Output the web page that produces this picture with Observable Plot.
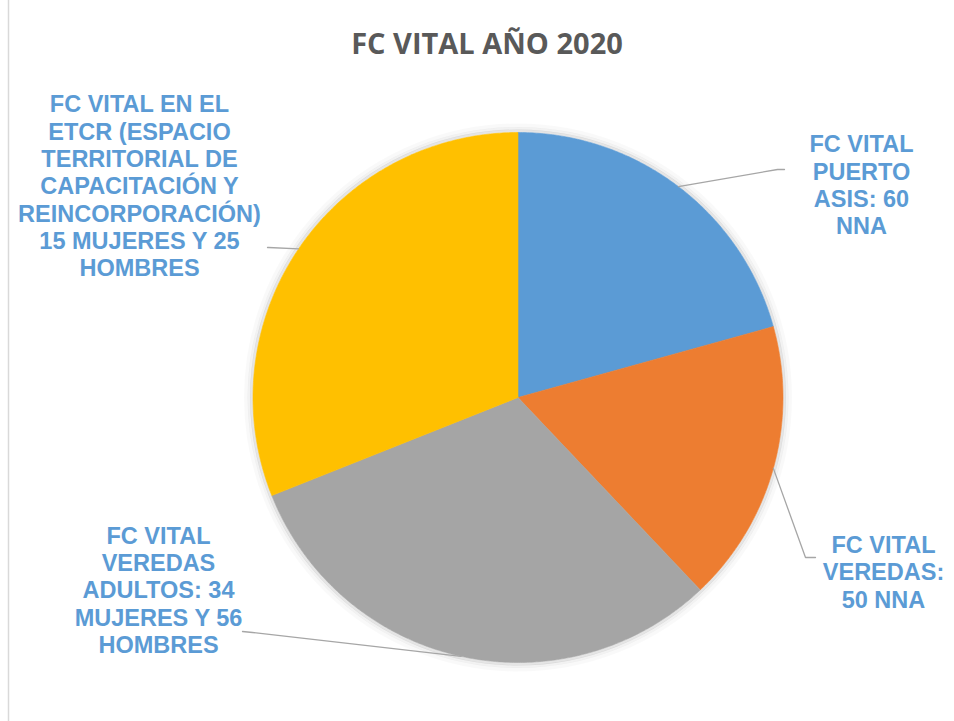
<!DOCTYPE html>
<html>
<head>
<meta charset="utf-8">
<script src="https://cdn.jsdelivr.net/npm/d3@7"></script>
<script src="https://cdn.jsdelivr.net/npm/@observablehq/plot@0.6"></script>
<style>
  html, body { margin: 0; padding: 0; background: #ffffff; }
  #chart svg { display: block; }
</style>
</head>
<body>
<div id="chart"></div>
<script>
// ---------- data ----------
const title = "FC VITAL AÑO 2020";
const categories = ["Puerto Asis", "Veredas", "Veredas adultos", "ETCR"];
const values = [60, 50, 90, 90];
const labelTexts = [
  "FC VITAL\nPUERTO\nASIS: 60\nNNA",
  "FC VITAL\nVEREDAS:\n50 NNA",
  "FC VITAL\nVEREDAS\nADULTOS: 34\nMUJERES Y 56\nHOMBRES",
  "FC VITAL EN EL\nETCR (ESPACIO\nTERRITORIAL DE\nCAPACITACIÓN Y\nREINCORPORACIÓN)\n15 MUJERES Y 25\nHOMBRES"
];
const sliceColors = ["#5B9BD5", "#ED7D31", "#A5A5A5", "#FFC000"];

// ---------- layout (pixels) ----------
const W = 954, H = 721;
const cx = 517.5, cy = 397, R = 265;
const labelLayout = [
  { x: 861, y: 184, elbow: [777, 169], end: [784, 169] },
  { x: 883, y: 571, elbow: [805, 557], end: [815, 557] },
  { x: 158, y: 589, elbow: [252, 632], end: [242, 631] },
  { x: 139, y: 185, elbow: [268, 247], end: [267, 247] }
];
const shadowRings = [
  { r: R + 1.5, w: 3, o: 0.10 },
  { r: R + 4, w: 3, o: 0.05 },
  { r: R + 7, w: 4, o: 0.025 }
];

// ---------- geometry from data ----------
const arcs = d3.pie().sort(null).value(d => d)(values);
const piePoints = [];
arcs.forEach((a, i) => {
  piePoints.push({ cat: categories[i], x: cx, y: cy });
  const n = Math.max(2, Math.ceil((a.endAngle - a.startAngle) / (Math.PI / 360)));
  for (let k = 0; k <= n; k++) {
    const t = a.startAngle + (a.endAngle - a.startAngle) * k / n;
    piePoints.push({ cat: categories[i], x: cx + R * Math.sin(t), y: cy - R * Math.cos(t) });
  }
  piePoints.push({ cat: categories[i], x: cx, y: cy });
});

const leaderPoints = [];
const labelRows = [];
arcs.forEach((a, i) => {
  const mid = (a.startAngle + a.endAngle) / 2;
  const L = labelLayout[i];
  leaderPoints.push({ cat: categories[i], x: cx + R * Math.sin(mid), y: cy - R * Math.cos(mid) });
  leaderPoints.push({ cat: categories[i], x: L.elbow[0], y: L.elbow[1] });
  leaderPoints.push({ cat: categories[i], x: L.end[0], y: L.end[1] });
  labelRows.push({ cat: categories[i], x: L.x, y: L.y, text: labelTexts[i] });
});

const sliceMarks = categories.map((c, i) =>
  Plot.line(piePoints.filter(p => p.cat === c), {
    x: "x", y: "y", fill: sliceColors[i], stroke: sliceColors[i],
    strokeWidth: 0.6, curve: "linear-closed"
  })
);

const chart = Plot.plot({
  width: W,
  height: H,
  margin: 0,
  x: { domain: [0, W], range: [0, W], axis: null },
  y: { domain: [0, H], range: [0, H], axis: null },
  style: { background: "#ffffff" },
  marks: [
    Plot.ruleX([8], { stroke: "#d9d9d9", strokeWidth: 1.5 }),
    ...shadowRings.map(s => Plot.dot([[cx, cy]], {
      x: d => d[0], y: d => d[1], r: s.r, fill: "none",
      stroke: "#000000", strokeOpacity: s.o, strokeWidth: s.w
    })),
    ...sliceMarks,
    Plot.line(leaderPoints, {
      x: "x", y: "y", z: "cat", stroke: "#A6A6A6", strokeWidth: 1.3, curve: "linear"
    }),
    Plot.text(labelRows, {
      x: "x", y: "y", text: "text",
      fill: "#5B9BD5", fontSize: 23.5, fontWeight: "bold",
      fontFamily: "'Liberation Sans', Arial, sans-serif",
      textAnchor: "middle", lineHeight: 1.165
    }),
    Plot.text([title], {
      x: () => 486.5, y: () => 44, text: d => d,
      fill: "#595959", fontSize: 29, fontWeight: "bold",
      fontFamily: "'Open Sans', sans-serif", textAnchor: "middle"
    })
  ]
});

document.getElementById("chart").appendChild(chart);
</script>
</body>
</html>
